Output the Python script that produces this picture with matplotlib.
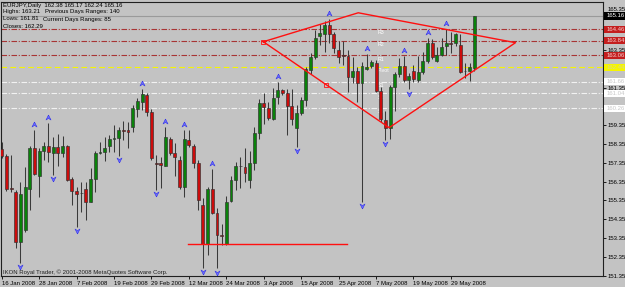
import matplotlib
matplotlib.use("Agg")
import matplotlib.pyplot as plt
import matplotlib.transforms as mtransforms
from matplotlib.path import Path
from matplotlib.patches import Rectangle
import numpy as np
import pandas as pd

plt.rcParams['font.family'] = ['Liberation Sans', 'DejaVu Sans']
plt.rcParams['font.size'] = 4.3

# EURJPY daily bars, 16 Jan 2008 .. 5 Jun 2008
dates = pd.bdate_range("2008-01-16", periods=102)

opens = [158.09, 157.71, 156.01, 155.80, 153.15, 153.77, 155.96, 158.14, 156.65, 157.98,
         158.24, 157.89, 158.17, 157.89, 158.24, 156.49, 155.86, 155.77, 155.96, 155.28,
         156.47, 157.85, 157.91, 158.26, 158.63, 158.65, 159.09, 159.09, 159.23, 160.20,
         160.60, 160.96, 160.07, 157.32, 157.35, 157.19, 158.63, 157.85, 157.50, 156.08,
         158.56, 158.24, 157.32, 155.10, 153.03, 155.94, 154.68, 153.51, 153.05, 155.34,
         156.43, 157.19, 157.11, 156.41, 157.32, 158.96, 160.51, 160.28, 159.68, 160.83,
         161.22, 161.05, 160.37, 159.18, 159.98, 160.69, 162.29, 162.96, 164.11, 164.20,
         164.68, 164.20, 163.35, 163.08, 163.05, 161.93, 162.25, 161.58, 162.36, 162.50,
         162.67, 161.18, 159.63, 159.18, 161.37, 162.07, 162.51, 161.75, 162.23, 161.75,
         162.20, 162.76, 163.71, 162.78, 163.08, 163.56, 163.71, 163.71, 163.62, 162.25,
         162.25, 162.38]
highs = [158.46, 157.82, 157.76, 155.90, 156.33, 157.13, 158.24, 159.09, 158.14, 158.48,
         159.47, 158.72, 158.88, 158.77, 158.30, 156.61, 156.06, 156.33, 156.33, 157.06,
         157.98, 158.46, 158.74, 158.83, 159.36, 159.25, 159.57, 159.52, 160.42, 160.78,
         161.25, 161.08, 160.20, 157.74, 157.66, 159.23, 158.74, 158.39, 157.71, 159.09,
         159.12, 158.35, 157.50, 155.48, 156.06, 157.00, 154.94, 154.09, 155.58, 156.65,
         157.41, 157.66, 158.14, 157.98, 159.25, 160.77, 161.06, 160.61, 161.33, 161.65,
         161.30, 161.28, 161.30, 160.42, 160.85, 162.46, 163.17, 164.41, 164.73, 164.91,
         165.00, 164.32, 163.84, 163.84, 163.35, 162.96, 162.45, 162.71, 163.14, 162.82,
         162.82, 161.37, 160.13, 161.49, 162.20, 162.92, 163.03, 162.14, 162.55, 163.03,
         163.24, 163.97, 163.92, 163.53, 163.97, 164.45, 164.32, 164.24, 164.20, 162.64,
         162.64, 165.17]
lows = [157.61, 155.85, 155.80, 152.82, 152.02, 153.67, 154.84, 156.70, 155.53, 157.50,
        157.41, 156.70, 157.18, 157.66, 156.38, 155.10, 153.95, 154.73, 154.31, 155.26,
        155.81, 157.82, 157.46, 157.92, 157.92, 157.71, 158.56, 158.14, 158.99, 159.79,
        160.16, 159.84, 157.52, 155.93, 156.01, 157.18, 157.76, 156.65, 155.96, 155.55,
        158.19, 157.10, 154.84, 151.75, 152.44, 154.63, 151.73, 152.98, 152.98, 155.26,
        155.90, 156.01, 156.33, 156.01, 156.97, 158.62, 159.41, 159.63, 159.63, 160.50,
        160.96, 158.83, 159.36, 158.21, 159.89, 160.37, 162.07, 162.87, 163.62, 163.26,
        163.71, 163.19, 162.66, 162.55, 161.12, 161.59, 160.60, 155.26, 162.29, 162.37,
        161.12, 159.52, 158.56, 158.60, 160.13, 161.91, 161.66, 161.25, 161.65, 161.65,
        162.10, 162.64, 162.86, 162.73, 163.03, 163.08, 163.19, 163.58, 162.13, 161.84,
        161.72, 162.24]
closes = [157.71, 155.96, 155.96, 153.14, 155.69, 156.06, 158.14, 156.75, 157.98, 158.27,
          157.94, 158.17, 157.85, 158.24, 156.43, 155.86, 155.69, 155.72, 155.28, 156.47,
          157.85, 157.94, 158.15, 158.60, 158.67, 159.09, 159.06, 159.00, 160.25, 160.64,
          161.01, 160.07, 157.62, 157.29, 157.22, 158.71, 157.89, 157.67, 156.08, 158.60,
          158.28, 157.32, 155.37, 153.03, 155.94, 154.68, 153.51, 153.47, 155.28, 156.43,
          157.18, 157.16, 156.79, 157.32, 158.96, 160.51, 160.30, 159.72, 160.81, 161.22,
          161.05, 160.37, 159.68, 159.98, 160.69, 162.32, 162.96, 163.97, 164.27, 164.68,
          164.20, 163.44, 162.99, 163.05, 161.93, 162.25, 161.58, 162.50, 162.46, 162.71,
          161.18, 159.66, 159.18, 161.37, 162.07, 162.51, 161.75, 161.98, 161.79, 162.20,
          162.76, 163.71, 162.96, 163.08, 163.53, 163.71, 163.69, 164.20, 162.20, 162.22,
          162.46, 165.16]

# fractal markers (bar indices)
fractal_up = [7, 10, 30, 35, 39, 45, 59, 70, 78, 86, 91, 95]
fractal_down = [4, 11, 16, 25, 33, 43, 46, 63, 77, 82, 87]

# daily pivot levels
pivot_names = ["R3", "R2", "R1", "Pivot", "S1", "S2", "S3"]
pivot_values = [164.46, 163.84, 163.06, 162.44, 161.66, 161.04, 160.26]
last_price = 165.16

# price scale ticks, the ones under the level boxes are not shown
scale_ticks = [151.35, 152.35, 153.35, 154.35, 155.35, 156.35, 157.35, 158.35,
               159.35, 160.35, 161.35, 162.35, 163.35, 164.35, 165.35]
hidden_ticks = [160.35, 162.35, 164.35]

# hand drawn objects (bar index, price)
diamond_x = [55.9, 76.2, 109.8, 82.8, 55.9]
diamond_y = [163.79, 165.33, 163.74, 159.22, 163.79]
support_x = [39.9, 73.7]
support_y = [153.03, 153.03]

BG = "#c3c3c3"
GREEN = "#0a820a"
RED = "#cc0c0c"
DARK = "#303030"

fig = plt.figure(figsize=(6.25, 2.87), dpi=100, facecolor=BG)
ax = fig.add_axes([1 / 625, 11 / 287, 602 / 625, 274.5 / 287], facecolor=BG)

x = np.arange(len(opens))
o = np.array(opens)
h = np.array(highs)
l = np.array(lows)
c = np.array(closes)

# pivot lines and price line behind the candles
rcol = "#a83434"
for name, v in zip(pivot_names, pivot_values):
    if name.startswith("R"):
        ax.axhline(v, color=rcol, lw=0.8, dashes=(5, 1.5, 1, 1.5), zorder=1)
    elif name == "Pivot":
        ax.axhline(v, color="#f5f500", lw=0.8, dashes=(5, 3), zorder=1)
    else:
        ax.axhline(v, color="#f2f2f2", lw=0.8, dashes=(5, 1.5, 1, 1.5), zorder=1)
    ax.text(80.3, v - 0.06, name, color="white", fontsize=3.8, va="top", ha="left", zorder=2)
ax.axhline(last_price, color="#9a9a9a", lw=0.8, zorder=1)

# candles
ax.vlines(x, l, h, color="#3a3a3a", lw=0.75, zorder=3)
bottom = np.minimum(o, c)
height = np.maximum(np.abs(c - o), 0.04)
bull = c >= o
ax.bar(x[bull], height[bull], bottom=bottom[bull], width=0.62, color=GREEN,
       edgecolor=DARK, lw=0.45, zorder=4)
ax.bar(x[~bull], height[~bull], bottom=bottom[~bull], width=0.62, color=RED,
       edgecolor=DARK, lw=0.45, zorder=4)

# fractal arrows
up_marker = Path([(0, 1), (1, -1), (0, -0.35), (-1, -1), (0, 1)])
down_marker = Path([(0, -1), (1, 1), (0, 0.35), (-1, 1), (0, -1)])
ax.plot(x[fractal_up], h[fractal_up] + 0.32, ls="none", marker=up_marker, ms=3.6,
        mfc="#6b6bff", mec="#3434e6", mew=0.4, zorder=5)
ax.plot(x[fractal_down], l[fractal_down] - 0.22, ls="none", marker=down_marker, ms=3.6,
        mfc="#6b6bff", mec="#3434e6", mew=0.4, zorder=5)

# objects
ax.plot(diamond_x, diamond_y, color="#ff1010", lw=1.0, zorder=6)
ax.plot([diamond_x[0], (diamond_x[0] + diamond_x[3]) / 2],
        [diamond_y[0], (diamond_y[0] + diamond_y[3]) / 2],
        ls="none", marker="s", ms=2.2, mfc="none", mec="#ff1010", mew=0.6, zorder=7)
ax.plot(support_x, support_y, color="#ff1010", lw=1.0, zorder=6)

ax.set_xlim(-0.15, 128.5)
ax.set_ylim(151.33, 165.93)

# axes
ax.yaxis.tick_right()
ax.set_yticks(scale_ticks)
ax.set_yticklabels(["" if v in hidden_ticks else "%.2f" % v for v in scale_ticks])
ax.set_xticks(x[::8])
ax.set_xticklabels([f"{d.day} {d.strftime('%b %Y')}" for d in dates[::8]])
for lab in ax.get_xticklabels():
    lab.set_horizontalalignment("left")
ax.tick_params(axis="both", length=2.2, width=0.6, pad=1.2, labelsize=4.3, colors="black")
# top scale label sits partly above the price box
ax.get_yticklabels()[-1].set_verticalalignment("bottom")
for sp in ax.spines.values():
    sp.set_color("#202020")
    sp.set_linewidth(0.8)

# price labels on the right scale
tr = mtransforms.blended_transform_factory(ax.transAxes, ax.transData)
boxes = [(last_price, "black", "white")]
for name, v in zip(pivot_names, pivot_values):
    if name.startswith("R"):
        boxes.append((v, "#c41e1e", "#f4d0d0"))
    elif name == "Pivot":
        boxes.append((v, "#f5f500", "#d8d890"))
    else:
        boxes.append((v, "white", "#c8c8c8"))
for v, fc, tc in boxes:
    ax.add_patch(Rectangle((1.001, v - 0.19), 0.037, 0.38, transform=tr, fc=fc,
                           ec="none", clip_on=False, zorder=10))
    ax.text(1.006, v, "%.2f" % v, transform=tr, color=tc, fontsize=4.3,
            va="center", ha="left", clip_on=False, zorder=11)

# header and footer text
def fig_xy(px, py):
    return px / 625, 1 - py / 287

fig.text(*fig_xy(3, 6), "EURJPY,Daily  162.38 165.17 162.24 165.16", va="center", fontsize=4.3)
fig.text(*fig_xy(3, 12), "Highs: 163.21", va="center", fontsize=4.3)
fig.text(*fig_xy(45, 12), "Previous Days Ranges: 140", va="center", fontsize=4.3)
fig.text(*fig_xy(3, 19), "Lows: 161.81", va="center", fontsize=4.3)
fig.text(*fig_xy(43, 19), "Current Days Ranges: 85", va="center", fontsize=4.3)
fig.text(*fig_xy(3, 26), "Closes: 162.29", va="center", fontsize=4.3)
fig.text(*fig_xy(3, 272.5), "IKON Royal Trader, \u00a9 2001-2008 MetaQuotes Software Corp.",
         va="center", fontsize=4.3, color="#202020")

fig.savefig("out.png", dpi=100, facecolor=BG)
